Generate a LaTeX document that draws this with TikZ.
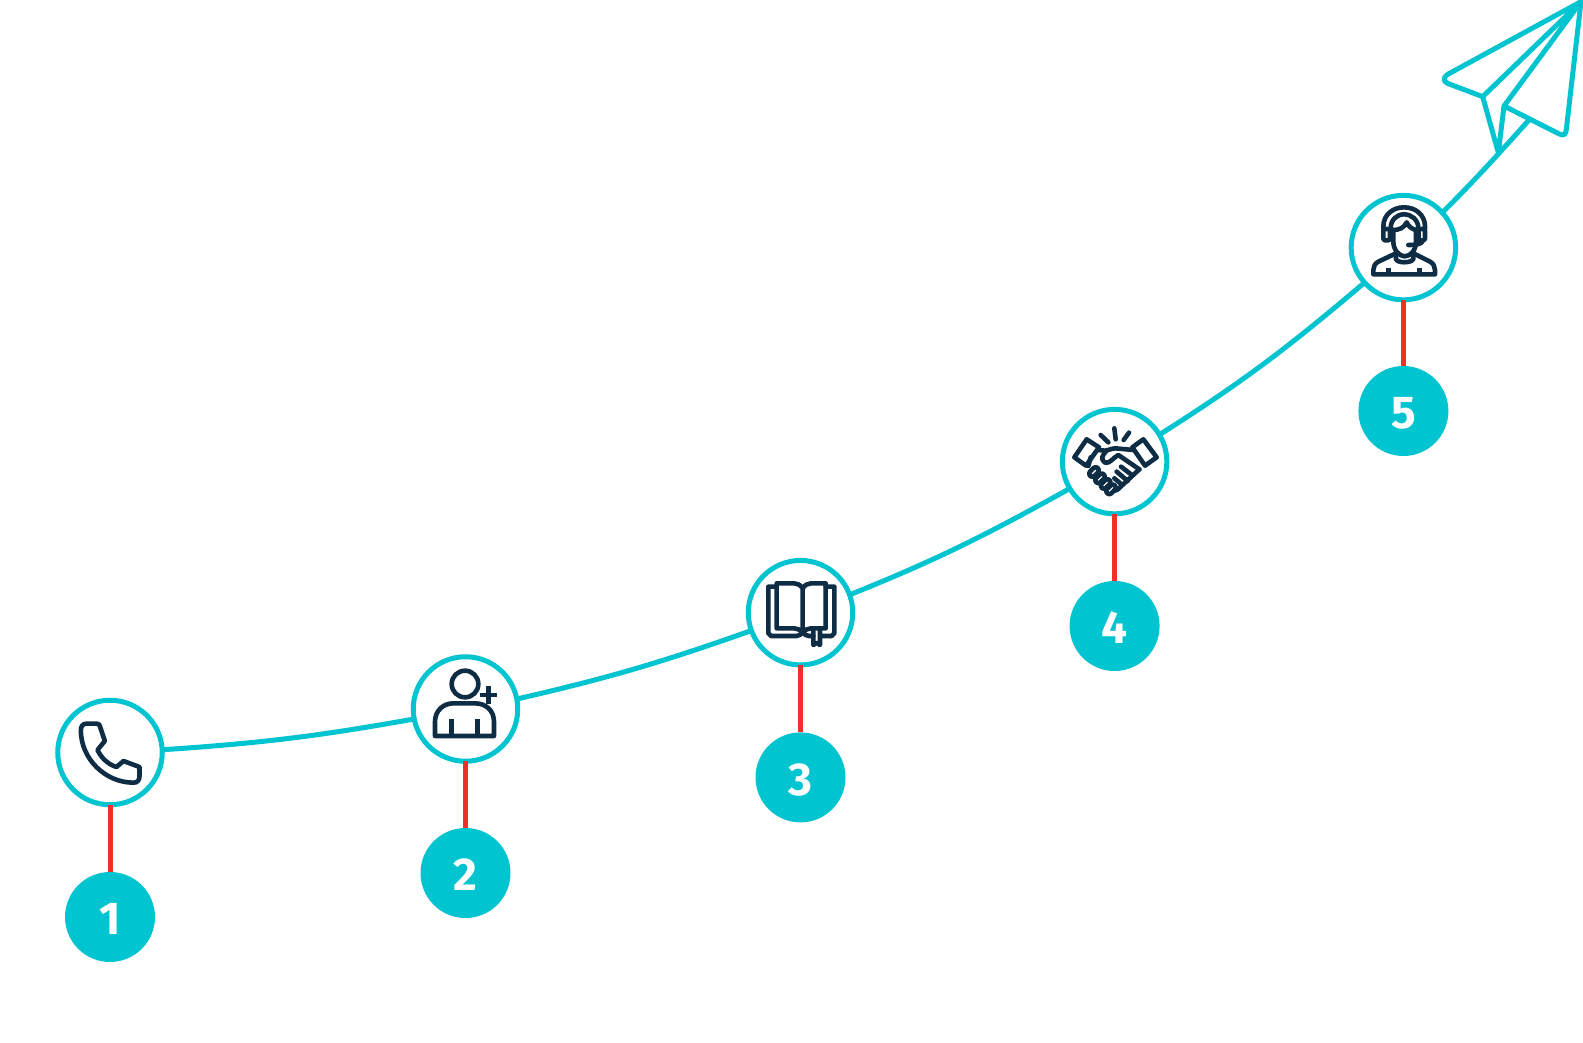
\documentclass[tikz,border=0pt]{standalone}
\usepackage{fontspec}
\setmainfont{Fira Sans}
\definecolor{teal1}{HTML}{00C4CF}
\definecolor{red1}{HTML}{EE3127}
\definecolor{navy1}{HTML}{0E2C44}
\tikzset{
  stepcircle/.style={circle,draw=teal1,line width=5pt,fill=white,minimum size=104.5pt,inner sep=0pt,outer sep=0pt},
  badge/.style={circle,fill=teal1,minimum size=90pt,inner sep=0pt,outer sep=0pt,text=white,text height=35.5pt,text depth=0pt,font=\fontsize{46}{46}\selectfont\bfseries},
  curveline/.style={draw=teal1,line width=5pt},
  stem/.style={draw=red1,line width=5pt},
  ico/.style={draw=navy1,line width=4.6pt,line join=round,line cap=round},
  planeline/.style={draw=teal1,line width=5pt,line join=round,line cap=round},
  zoomed/.style={x=0.33333pt,y=-0.33333pt},
  finger/.pic={\draw[ico,rounded corners=2.5pt] (17.7,-4.9) -- (4.9,-17.7) -- (-17.7,4.9) -- (-4.9,17.7) -- cycle;}
}
\begin{document}
\begin{tikzpicture}[x=1pt,y=1pt]
\useasboundingbox (0,-1043) rectangle (1583,0);
\fill[white] (0,-1043) rectangle (1583,0);
% curve end
\coordinate (planeend) at (1529,-120);
% nodes
\node[stepcircle] (c1) at (110,-752.5) {};
\node[stepcircle] (c2) at (465.5,-709) {};
\node[stepcircle] (c3) at (800.5,-612.7) {};
\node[stepcircle] (c4) at (1114.6,-461.6) {};
\node[stepcircle] (c5) at (1403.4,-247.6) {};
\node[badge] (b1) at (110,-917) {1};
\node[badge] (b2) at (465.5,-873) {2};
\node[badge] (b3) at (800.5,-777.4) {3};
\node[badge] (b4) at (1114.6,-626) {4};
\node[badge] (b5) at (1403.4,-411) {5};
% curve
\draw[curveline] (c1.3) to[out=3.85,in=190.15] (c2.191.5);
\draw[curveline] (c2.11.5) to[out=12.95,in=199.45] (c3.200.9);
\draw[curveline] (c3.20.9) to[out=21.9,in=209] (c4.211.2);
\draw[curveline] (c4.31.2) to[out=32.3,in=220.3] (c5.222.8);
\draw[curveline] (c5.42.8) to[out=45,in=228] (planeend);
% stems
\draw[stem] (c1) -- (b1);
\draw[stem] (c2) -- (b2);
\draw[stem] (c3) -- (b3);
\draw[stem] (c4) -- (b4);
\draw[stem] (c5) -- (b5);
% phone
\begin{scope}[shift={(41.5pt,-681pt)},zoomed]
\draw[ico] (135,128) -- (165,128) .. controls (172,128) and (173,130) .. (175,135) -- (190,180) -- (168,207)
  .. controls (180,232) and (200,250) .. (225,258) -- (246,240) -- (294,258) -- (294,285)
  .. controls (294,298) and (288,305) .. (276,305)
  .. controls (190,305) and (118,232) .. (118,148)
  .. controls (118,136) and (124,128) .. (135,128) -- cycle;
\end{scope}
% person
\begin{scope}[shift={(400pt,-640pt)},zoomed]
\draw[ico] (195,132) circle[radius=40];
\draw[ico,line cap=butt] (240,165) -- (292,165) (265,139) -- (265,191);
\draw[ico] (105,288) -- (105,245) .. controls (105,212) and (130,190) .. (160,190) -- (225,190)
  .. controls (258,190) and (282,212) .. (282,245) -- (282,288) -- cycle;
\draw[ico,line cap=butt] (155,238) -- (155,288) (232,238) -- (232,288);
\end{scope}
% book
\begin{scope}[shift={(735pt,-550pt)},zoomed]
\draw[ico] (125,110) -- (100,110) -- (100,250) -- (108,258) -- (185,258) .. controls (192,258) and (198,252) .. (203,248)
  .. controls (208,252) and (214,258) .. (222,258) -- (235,258);
\draw[ico] (258,258) -- (290,258) -- (298,250) -- (298,110) -- (272,110);
\draw[ico] (203,115) .. controls (196,105) and (188,100) .. (178,100) -- (125,100) -- (125,235) -- (178,235)
  .. controls (188,235) and (196,240) .. (203,248) .. controls (210,240) and (218,235) .. (228,235) -- (272,235) -- (272,100) -- (228,100)
  .. controls (218,100) and (210,105) .. (203,115) -- cycle (203,115) -- (203,248);
\draw[ico] (235,235) -- (235,285) -- (245,278) -- (255,285) -- (255,235);
\end{scope}
% handshake
\begin{scope}[shift={(1045pt,-400pt)},zoomed]
\draw[ico] (125,118) -- (162,142) -- (123,197) -- (88,172) -- cycle;
\draw[ico] (295,118) -- (335,172) -- (300,197) -- (262,142) -- cycle;
\draw[ico] (208,85) -- (212,118) (167,105) -- (190,127) (252,98) -- (236,120);
\draw[ico] (160,150) -- (180,152) .. controls (195,150) and (205,142) .. (222,146) -- (265,150);
\draw[ico] (185,152) .. controls (172,165) and (165,178) .. (180,188) .. controls (195,192) and (205,172) .. (220,165) -- (283,208);
\draw[ico] (137,172) -- (130,198);
\draw[ico] (283,208) -- (225,262) .. controls (220,268) and (215,272) .. (208,272);
\draw[ico] (228,200) -- (262,226) (215,215) -- (248,243) (208,235) -- (232,255);
\pic at (147,216) {finger};
\pic at (165,235) {finger};
\pic at (182,252) {finger};
\pic at (198,268) {finger};
\end{scope}
% headset
\begin{scope}[shift={(1330pt,-185pt)},zoomed]
\draw[ico] (160,132) -- (160,125) .. controls (160,88) and (190,67) .. (222,67) .. controls (255,67) and (285,88) .. (285,125) -- (285,132);
\draw[ico] (182,130) .. controls (182,105) and (200,88) .. (222,88) .. controls (245,88) and (265,105) .. (265,130);
\draw[ico,rounded corners=2pt] (160,132) -- (180,132) -- (180,166) -- (160,166) -- cycle;
\draw[ico,rounded corners=2pt] (266,132) -- (285,132) -- (285,166) -- (266,166) -- cycle;
\draw[ico] (190,135) .. controls (205,135) and (222,130) .. (230,112) .. controls (235,125) and (248,133) .. (258,135);
\draw[ico] (190,135) -- (190,170) .. controls (190,195) and (208,214) .. (224,214) .. controls (242,214) and (258,195) .. (258,170) -- (258,135);
\draw[ico] (278,166) .. controls (278,176) and (262,180) .. (235,180);
\draw[ico] (198,205) -- (198,222) .. controls (200,235) and (245,235) .. (250,222) -- (250,205);
\draw[ico] (198,205) -- (145,230) .. controls (135,235) and (130,245) .. (130,255) -- (130,268) -- (315,268) -- (315,255)
  .. controls (315,245) and (310,235) .. (300,230) -- (250,205);
\draw[ico,line cap=butt] (175,248) -- (175,268) (268,248) -- (268,268);
\end{scope}
% plane
\begin{scope}[shift={(1420pt,0pt)},zoomed]
\coordinate (tip) at (483,5);
\coordinate (wing) at (188,290);
\coordinate (fold) at (252,318);
\coordinate (tail) at (235,458);
\draw[planeline] (tip) -- (85,222) .. controls (68,231) and (68,245) .. (85,251) -- (wing) -- (tail) -- (fold)
  -- (416,401) .. controls (430,409) and (438,404) .. (439,388) -- cycle;
\draw[planeline] (wing) -- (tip) (fold) -- (tip);
\end{scope}
\end{tikzpicture}
\end{document}
